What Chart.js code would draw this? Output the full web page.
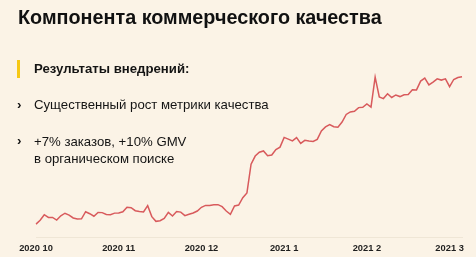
<!DOCTYPE html>
<html><head><meta charset="utf-8">
<script src="https://cdn.jsdelivr.net/npm/chart.js@4/dist/chart.umd.min.js"></script>
<style>
html,body{margin:0;padding:0;background:#fbf3e6;}
body{width:476px;height:257px;position:relative;overflow:hidden;font-family:"Liberation Sans",Arial,sans-serif;color:#141414;}
#c{position:absolute;left:0;top:0;}
.t{position:absolute;white-space:nowrap;}
#title{left:18px;top:6px;font-size:19.8px;font-weight:bold;color:#111;}
#bar{position:absolute;left:17px;top:60px;width:3px;height:18px;background:#f6c814;}
#sub{left:34px;top:61px;font-size:13.2px;font-weight:bold;}
.chev{position:absolute;left:17px;font-size:13.5px;font-weight:bold;}
#b1{left:34px;top:97px;font-size:13.2px;}
#b2{left:34px;top:133px;font-size:13.2px;line-height:17px;}
</style></head>
<body>
<canvas id="c" width="476" height="263"></canvas>
<div class="t" id="title">Компонента коммерческого качества</div>
<div id="bar"></div>
<div class="t" id="sub">Результаты внедрений:</div>
<div class="t chev" style="top:97px">›</div>
<div class="t" id="b1">Существенный рост метрики качества</div>
<div class="t chev" style="top:133px">›</div>
<div class="t" id="b2">+7% заказов, +10% GMV<br>в органическом поиске</div>
<script>
const monthTicks = ['2020 10','2020 11','2020 12','2021 1','2021 2','2021 3'];
const pointsPerMonth = 20;
const qualityValues = [
13.7,17.5,23,20.3,20.3,17.7,22,24.5,22.7,19.8,
18.7,18.9,26,24,21.5,25.3,25.1,23.2,23,24.6,
24.8,26,30.5,30,27,26.3,25.8,32,21.1,16.4,
17,19.3,25.3,21.7,26.2,25.6,22.1,23.4,24.7,26.7,
30.4,32.3,32.3,33,33,31,26.7,23.5,31.7,32.6,
40,44.7,73.3,81.4,85.2,86.5,81.7,82.5,87.9,90.3,
100,98.3,96.5,99.7,94,97,96.3,95.9,98,106.4,
110.4,112.8,110.6,110.1,115.2,122.8,125.3,125.9,129.6,129.9,
133.3,130.2,160,140.3,138.6,143.4,139.7,142.2,140.6,142.4,
142.7,147.4,147.2,156,159,152.2,155,158.2,157,158.2,
150.5,157.6,159.6,160.3
];
const labels = qualityValues.map((_, i) => (i % pointsPerMonth === 0 && monthTicks[i / pointsPerMonth]) ? monthTicks[i / pointsPerMonth] : '');

new Chart(document.getElementById('c'), {
  type: 'line',
  data: {
    labels: labels,
    datasets: [{
      data: qualityValues,
      borderColor: '#d85a5c',
      borderWidth: 1.5,
      pointRadius: 0,
      tension: 0,
      fill: false
    }]
  },
  options: {
    responsive: false,
    animation: false,
    layout: { padding: { left: 36, right: 14, top: 60, bottom: 4 } },
    plugins: { legend: { display: false }, tooltip: { enabled: false } },
    scales: {
      x: {
        grid: { display: false, drawTicks: false },
        border: { display: true, color: '#efe6d6', width: 1 },
        ticks: {
          autoSkip: false, maxRotation: 0, minRotation: 0, padding: 5,
          color: '#1e1e1e',
          font: { family: 'Liberation Sans', size: 9.3, weight: 'bold' }
        }
      },
      y: { display: false, min: 0, max: 177 }
    }
  }
});
</script>
</body></html>
